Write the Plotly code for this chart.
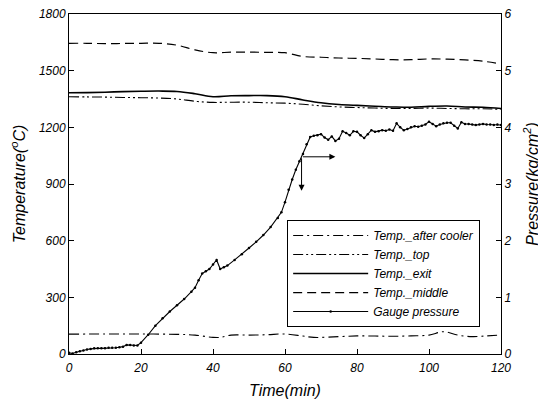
import plotly.graph_objects as go

# ---------------- data ----------------
t_temp = [0, 5, 10, 15, 20, 25, 30, 35, 40, 45, 50, 55, 60, 65, 70, 75, 80, 85, 90, 95, 100, 105, 110, 115, 120]
temp_middle = [1645, 1645, 1643, 1644, 1645, 1645, 1635, 1610, 1595, 1598, 1598, 1597, 1595, 1575, 1571, 1567, 1565, 1562, 1558, 1558, 1562, 1561, 1557, 1550, 1535]
temp_exit = [1383, 1384, 1386, 1389, 1391, 1392, 1390, 1378, 1362, 1367, 1368, 1368, 1362, 1345, 1330, 1321, 1316, 1312, 1308, 1306, 1311, 1313, 1308, 1306, 1300]
temp_top = [1362, 1361, 1360, 1358, 1357, 1355, 1350, 1338, 1332, 1333, 1333, 1330, 1328, 1322, 1314, 1308, 1305, 1302, 1300, 1300, 1302, 1300, 1298, 1298, 1295]

t_cooler = [0, 10, 20, 30, 35, 40, 42, 45, 50, 55, 60, 65, 68, 75, 80, 85, 90, 95, 100, 104, 108, 112, 116, 120]
temp_cooler = [105, 106, 106, 104, 100, 88, 88, 100, 100, 102, 106, 95, 88, 92, 96, 95, 94, 96, 100, 118, 100, 92, 96, 100]

t_press = [0, 1, 2, 3, 4, 5, 6, 7, 8, 9, 10, 11, 12, 13, 14, 15, 16, 17, 18, 19,
           20, 22, 24, 26, 28, 30, 32, 34, 35, 36, 37, 38, 39, 40, 41, 42, 43, 44, 46, 48,
           50, 52, 54, 56, 58, 59, 60, 61, 62, 63, 64, 65, 66, 67, 68, 69, 70, 71, 72, 73,
           74, 75, 76, 77, 78, 79, 80, 81, 82, 83, 84, 85, 86, 87, 88, 89, 90, 91, 92, 93,
           94, 95, 96, 97, 98, 99, 100, 101, 102, 103, 104, 105, 106, 107, 108, 109, 110, 111, 112, 113,
           114, 115, 116, 117, 118, 119, 120]
pressure = [0.02, 0.01, 0.03, 0.05, 0.06, 0.08, 0.09, 0.10, 0.10, 0.10, 0.10, 0.11, 0.11, 0.11, 0.12, 0.13, 0.16, 0.16, 0.15, 0.15,
            0.20, 0.34, 0.50, 0.63, 0.75, 0.86, 0.97, 1.10, 1.17, 1.30, 1.42, 1.46, 1.50, 1.58, 1.66, 1.50, 1.53, 1.56, 1.66, 1.76,
            1.87, 1.98, 2.10, 2.24, 2.40, 2.50, 2.68, 2.90, 3.08, 3.25, 3.40, 3.53, 3.70, 3.83, 3.85, 3.86, 3.88, 3.82, 3.78, 3.84,
            3.76, 3.80, 3.93, 3.90, 3.86, 3.93, 3.92, 3.86, 3.81, 3.88, 3.95, 3.92, 3.93, 3.95, 3.94, 3.96, 3.94, 4.07, 4.00, 3.95,
            3.97, 4.00, 4.02, 4.01, 4.03, 4.05, 4.10, 4.06, 4.02, 4.05, 4.07, 4.08, 4.08, 4.03, 3.98, 4.09, 4.06, 4.06, 4.05, 4.04,
            4.05, 4.06, 4.05, 4.05, 4.04, 4.05, 4.04]

x_ticks = [0, 20, 40, 60, 80, 100, 120]
y_ticks = [0, 300, 600, 900, 1200, 1500, 1800]
y2_ticks = [0, 1, 2, 3, 4, 5, 6]

# arrow annotation (data coordinates on x / y2)
arrow_t0, arrow_p0 = 64.6, 3.48
arrow_t1 = 74.0
arrow_p1 = 2.88

FONT = "Liberation Sans, Arial, sans-serif"

fig = go.Figure()
fig.add_trace(go.Scatter(x=t_cooler, y=temp_cooler, name="Temp._after cooler", mode="lines",
                         line=dict(color="black", width=1.1, dash="10px,4px,2px,4px", shape="spline")))
fig.add_trace(go.Scatter(x=t_temp, y=temp_top, name="Temp._top", mode="lines",
                         line=dict(color="black", width=1.1, dash="10px,3px,2px,3px,2px,3px", shape="spline")))
fig.add_trace(go.Scatter(x=t_temp, y=temp_exit, name="Temp._exit", mode="lines",
                         line=dict(color="black", width=1.6, shape="spline")))
fig.add_trace(go.Scatter(x=t_temp, y=temp_middle, name="Temp._middle", mode="lines",
                         line=dict(color="black", width=1.2, dash="9px,5px", shape="spline")))
fig.add_trace(go.Scatter(x=t_press, y=pressure, name="Gauge pressure", mode="lines+markers", yaxis="y2",
                         line=dict(color="black", width=1.1),
                         marker=dict(color="black", size=2.5)))

fig.add_annotation(x=arrow_t1, y=arrow_p0, ax=arrow_t0, ay=arrow_p0, xref="x", yref="y2",
                   axref="x", ayref="y2", showarrow=True, arrowhead=2, arrowsize=1.2, arrowwidth=1,
                   arrowcolor="black", text="")
fig.add_annotation(x=arrow_t0, y=arrow_p1, ax=arrow_t0, ay=arrow_p0, xref="x", yref="y2",
                   axref="x", ayref="y2", showarrow=True, arrowhead=2, arrowsize=1.2, arrowwidth=1,
                   arrowcolor="black", text="")

tickfont = dict(family=FONT, size=12, color="black", style="italic")
titlefont = dict(family=FONT, size=16, color="black", style="italic")

# the page body adds an 8px offset, so the figure is sized 538x398
fig.update_layout(
    width=538, height=398,
    margin=dict(l=61, r=45, t=6, b=52),
    paper_bgcolor="white", plot_bgcolor="white",
    showlegend=True,
    legend=dict(x=0.505, y=0.394, xanchor="left", yanchor="top",
                bgcolor="white", bordercolor="black", borderwidth=1,
                font=dict(family=FONT, size=12, color="black", style="italic"),
                itemwidth=75, tracegroupgap=0),
    xaxis=dict(range=[0, 120], tickvals=x_ticks, ticks="inside", ticklen=5, tickcolor="black",
               showline=True, linecolor="black", linewidth=1, mirror=True, showgrid=False, zeroline=False,
               automargin=False, ticklabeloverflow="allow", ticklabelstandoff=3,
               tickfont=tickfont, title=dict(text="Time(min)", font=titlefont, standoff=10)),
    yaxis=dict(range=[0, 1800], tickvals=y_ticks, ticks="inside", ticklen=5, tickcolor="black",
               showline=True, linecolor="black", linewidth=1, showgrid=False, zeroline=False,
               automargin=False, ticklabeloverflow="allow",
               tickfont=tickfont, title=dict(text="Temperature(<sup>o</sup>C)", font=titlefont, standoff=14)),
    yaxis2=dict(range=[0, 6], tickvals=y2_ticks, ticks="inside", ticklen=5, tickcolor="black",
                overlaying="y", side="right", anchor="x", automargin=False, ticklabeloverflow="allow",
                showline=True, linecolor="black", linewidth=1, showgrid=False, zeroline=False,
                tickfont=tickfont, title=dict(text="Pressure(kg/cm<sup>2</sup>)", font=titlefont, standoff=16)),
)

fig.write_html("out.html")
